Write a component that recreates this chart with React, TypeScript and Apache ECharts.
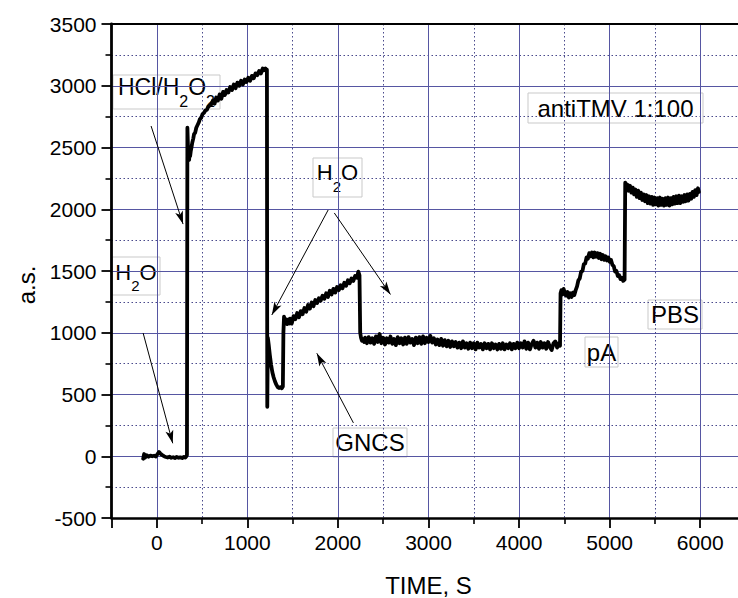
import React, { useEffect, useRef } from "react";
import * as echarts from "echarts";

// Time (s) and signal (a.s.)
const timeS = [
  -150, -140, -130, -110, -90, -70, -50, -30, -10, 10, 25, 40, 55, 70, 85, 100, 120, 140, 160, 180, 200, 220, 240, 260, 280, 300, 315, 328, 333,
  338, 342, 347, 352, 357, 362, 368, 375, 383, 392, 402, 412, 424, 436, 449, 462, 476, 490, 505, 520, 536, 552, 568, 585,
  602, 620, 638, 656, 675, 694, 713, 732, 751, 770, 790, 810, 830, 850, 870, 890, 910, 930, 950, 970, 990, 1010, 1030, 1050, 1070, 1090, 1110, 1130, 1150, 1170, 1185, 1200, 1212, 1216,
  1220, 1226, 1236, 1248, 1262, 1276, 1290, 1305, 1320, 1335, 1350, 1365, 1380, 1392, 1398, 1405, 1415, 1428, 1440, 1452, 1465,
  1470, 1490, 1510, 1530, 1550, 1570, 1590, 1610, 1630, 1650, 1670, 1690, 1710, 1730, 1750, 1770, 1790, 1810, 1830, 1850, 1870, 1890, 1910, 1930, 1950, 1970, 1990, 2010, 2030, 2050, 2070, 2090, 2110, 2130, 2150, 2170, 2190, 2210, 2225, 2238,
  2246, 2255, 2265, 2278, 2290,
  2300, 2320, 2340, 2360, 2380, 2400, 2420, 2440, 2460, 2480, 2500, 2520, 2540, 2560, 2580, 2600, 2620, 2640, 2660, 2680, 2700, 2720, 2740, 2760, 2780, 2800, 2820, 2840, 2860, 2880, 2900, 2920, 2940, 2960, 2980,
  3000, 3020, 3040, 3060, 3080, 3100, 3120, 3140, 3160, 3180, 3200, 3220, 3240, 3260, 3280, 3300, 3320, 3340, 3360, 3380, 3400, 3420, 3440, 3460, 3480, 3500, 3520, 3540, 3560, 3580, 3600, 3620, 3640, 3660, 3680, 3700, 3720, 3740, 3760, 3780, 3800, 3820, 3840, 3860, 3880, 3900, 3920, 3940, 3960, 3980,
  4000, 4020, 4040, 4060, 4080, 4100, 4120, 4140, 4160, 4180, 4200, 4220, 4240, 4260, 4280, 4300, 4320, 4340, 4360, 4380, 4400, 4420, 4440, 4452,
  4458, 4468, 4480, 4492, 4505, 4520, 4535, 4550, 4565, 4580, 4595, 4610, 4625, 4640, 4655, 4670, 4685, 4700, 4715, 4730, 4745, 4760, 4775, 4790, 4805, 4820, 4835, 4850, 4865, 4880, 4895, 4910, 4925, 4940, 4955, 4970, 4985, 5000, 5015, 5030, 5045, 5060, 5075, 5090, 5105, 5120, 5135, 5150, 5165,
  5172, 5182, 5195, 5210, 5225, 5240, 5255, 5270, 5285, 5300, 5315, 5330, 5345, 5360, 5375, 5390, 5405, 5420, 5435, 5450, 5465, 5480, 5495, 5510, 5525, 5540, 5555, 5570, 5585, 5600, 5615, 5630, 5645, 5660, 5675, 5690, 5705, 5720, 5735, 5750, 5765, 5780, 5795, 5810, 5825, 5840, 5855, 5870, 5885, 5900, 5915, 5930, 5945, 5960, 5975, 5985,
];

const signal = [
  -20, 18, -12, 8, -4, 5, 0, 4, -2, 20, 35, 22, 12, 5, -2, -6, -10, -4, -12, -8, -14, -6, -12, -9, -15, -5, -10, 2, 10,
  2660, 2560, 2450, 2410, 2400, 2460, 2430, 2470, 2500, 2540, 2570, 2610, 2620, 2660, 2680, 2700, 2730, 2740, 2770, 2780, 2800, 2805, 2830, 2840,
  2850, 2880, 2855, 2905, 2880, 2930, 2895, 2950, 2925, 2965, 2945, 2990, 2965, 3010, 2980, 3025, 3000, 3040, 3010, 3050, 3030, 3065, 3040, 3080, 3060, 3100, 3085, 3120, 3100, 3140, 3125, 3140, 3120, 3130,
  400, 960, 900, 820, 740, 680, 640, 605, 580, 560, 552, 560, 550, 565, 1000, 1130, 1085, 1110, 1070, 1105, 1075,
  1115, 1075, 1135, 1110, 1160, 1125, 1175, 1150, 1200, 1170, 1225, 1195, 1245, 1215, 1265, 1240, 1280, 1260, 1300, 1275, 1320, 1290, 1340, 1310, 1355, 1325, 1370, 1345, 1385, 1360, 1405, 1380, 1425, 1400, 1440, 1420, 1460, 1445, 1495, 1465,
  1000, 960, 935, 945, 925,
  960, 915, 965, 920, 955, 910, 970, 925, 990, 915, 960, 905, 955, 920, 970, 910, 950, 900, 965, 915, 955, 905, 960, 910, 965, 920, 950, 900, 960, 915, 965, 910, 970, 915, 960,
  925, 975, 920, 955, 905, 945, 900, 950, 895, 940, 890, 935, 885, 930, 890, 925, 880, 920, 875, 930, 880, 915, 870, 920, 875, 915, 865, 920, 880, 910, 865, 915, 875, 910, 865, 915, 875, 905, 865, 910, 870, 915, 865, 905, 875, 915, 865, 910, 875, 920,
  875, 915, 880, 930, 870, 920, 865, 910, 935, 880, 920, 870, 925, 880, 915, 870, 925, 885, 860, 915, 930, 880, 915, 895,
  1320, 1345, 1310, 1355, 1320, 1300, 1330, 1285, 1320, 1290, 1325, 1305, 1345, 1375, 1425, 1440, 1495, 1500, 1555, 1560, 1610, 1600, 1645, 1620, 1650, 1610, 1650, 1615, 1645, 1605, 1640, 1595, 1630, 1590, 1620, 1585, 1610, 1575, 1590, 1550, 1540, 1495, 1500, 1460, 1465, 1435, 1445, 1420, 1430,
  2215, 2185, 2200, 2150, 2190, 2135, 2175, 2120, 2160, 2100, 2150, 2090, 2135, 2075, 2120, 2065, 2115, 2050, 2105, 2045, 2100, 2035, 2095, 2040, 2090, 2030, 2095, 2035, 2085, 2030, 2090, 2035, 2095, 2030, 2090, 2040, 2100, 2045, 2105, 2050, 2110, 2050, 2105, 2060, 2115, 2065, 2120, 2070, 2125, 2085, 2140, 2100, 2155, 2115, 2170, 2140,
];

// Annotation arrows: [from, to] in data coordinates (time, signal)
const arrowFrom = [
  [-63, 2674],
  [-151, 998],
  [1892, 1994],
  [1960, 1970],
  [2171, 270],
];
const arrowTo = [
  [290, 1880],
  [176, 105],
  [1270, 1144],
  [2580, 1310],
  [1767, 834],
];

const xName = "TIME, S";
const yName = "a.s.";

export default function App() {
  const ref = useRef<HTMLDivElement>(null);

  useEffect(() => {
    if (!ref.current) return;
    const chart = echarts.init(ref.current, null, { renderer: "svg" });
    const font = '"Liberation Sans", Arial, Helvetica, sans-serif';
    const gridColor = "#5656a2";
    const minorColor = "#4a4a8c";
    const n = Math.min(timeS.length, signal.length);
    const data = timeS.slice(0, n).map((t, i) => [t, signal[i]]);

    const box = (x: number, y: number, w: number, h: number, text: string, size: number, dy: number, rich?: any) => ({
      type: "group",
      x,
      y,
      silent: true,
      children: [
        {
          type: "rect",
          shape: { x: 0, y: 0, width: w, height: h },
          style: { fill: "#ffffff", stroke: "#c9c9c9", lineWidth: 1 },
        },
        {
          type: "text",
          x: w / 2,
          y: h / 2 + dy,
          style: {
            text,
            fontFamily: font,
            fontSize: size,
            fill: "#000",
            align: "center",
            verticalAlign: "middle",
            rich,
          },
        },
      ],
    });

    const richH2O = {
      n: { fontSize: 22, fontFamily: font, lineHeight: 22, verticalAlign: "top", fill: "#000" },
      s: { fontSize: 15, fontFamily: font, lineHeight: 15, padding: [17, 0, 0, 0], verticalAlign: "top", fill: "#000" },
    };
    const richHCl = {
      n: { fontSize: 23, fontFamily: font, lineHeight: 24, verticalAlign: "top", fill: "#000" },
      s: { fontSize: 16, fontFamily: font, lineHeight: 16, padding: [18, 0, 0, 0], verticalAlign: "top", fill: "#000" },
    };

    const option: any = {
      animation: false,
      backgroundColor: "#ffffff",
      grid: { left: 111.5, top: 24, width: 634, height: 494, containLabel: false, outerBoundsMode: "none" },
      xAxis: [
        {
          type: "value",
          min: -500,
          max: 6500,
          minInterval: 1000,
          maxInterval: 1000,
          position: "bottom",
          name: xName,
          nameLocation: "middle",
          nameGap: 55,
          nameTextStyle: { color: "#000", fontSize: 24, fontFamily: font },
          axisLine: { show: true, onZero: false, lineStyle: { color: "#000", width: 2.5 } },
          axisTick: { show: true, inside: false, length: 10, lineStyle: { color: "#000", width: 1.8 } },
          minorTick: { show: true, splitNumber: 2, length: 6, lineStyle: { color: "#000", width: 1.6 } },
          axisLabel: {
            color: "#000",
            fontSize: 21,
            fontFamily: font,
            margin: 14,
            formatter: (v: number) => (v % 1000 === 0 ? String(v) : ""),
          },
          splitLine: { show: true, lineStyle: { color: gridColor, width: 1 } },
          minorSplitLine: { show: true, lineStyle: { color: minorColor, width: 1, type: [1.5, 2.5] } },
        },
        {
          type: "value",
          min: -500,
          max: 6500,
          position: "top",
          axisLine: { show: true, onZero: false, lineStyle: { color: "#000", width: 2 } },
          axisTick: { show: false },
          axisLabel: { show: false },
          splitLine: { show: false },
        },
      ],
      yAxis: {
        type: "value",
        min: -500,
        max: 3500,
        interval: 500,
        name: yName,
        nameLocation: "middle",
        nameRotate: 90,
        nameGap: 72,
        nameTextStyle: { color: "#000", fontSize: 24, fontFamily: font, padding: [0, 28, 0, 0] },
        axisLine: { show: true, onZero: false, lineStyle: { color: "#000", width: 2.8 } },
        axisTick: { show: true, inside: false, length: 10, lineStyle: { color: "#000", width: 1.8 } },
        minorTick: { show: true, splitNumber: 2, length: 6, lineStyle: { color: "#000", width: 1.6 } },
        axisLabel: { color: "#000", fontSize: 21, fontFamily: font, margin: 15, formatter: (v: number) => String(v) },
        splitLine: { show: true, lineStyle: { color: gridColor, width: 1 } },
        minorSplitLine: { show: true, lineStyle: { color: minorColor, width: 1, type: [1.5, 2.5] } },
      },
      series: [
        {
          type: "line",
          data,
          xAxisIndex: 0,
          yAxisIndex: 0,
          showSymbol: false,
          symbol: "none",
          silent: true,
          lineStyle: { color: "#000", width: 3.8, join: "round", cap: "round" },
          markLine: {
            silent: true,
            symbol: ["none", "arrow"],
            label: { show: false },
            emphasis: { disabled: true },
            lineStyle: { color: "#000", width: 1, type: "solid" },
            data: arrowFrom.map((a, i) => [
              { coord: a, symbol: "none" },
              { coord: arrowTo[i], symbol: "arrow", symbolSize: [6, 13] },
            ]),
          },
        },
      ],
      graphic: [
        box(113, 75, 107, 34, "{n|HCl/H}{s|2}{n|O}{s|2}", 23, -5, richHCl),
        box(313, 158, 49, 39, "{n|H}{s|2}{n|O}", 22, -5, richH2O),
        box(112, 257, 48, 38, "{n|H}{s|2}{n|O}", 22, -4, richH2O),
        box(528, 93, 175, 30, "antiTMV 1:100", 24, 0),
        box(648, 300, 54, 29, "PBS", 24, 0),
        box(585, 337, 33, 30, "pA", 24, 0),
        box(333, 428, 74, 29, "GNCS", 24, 0),
      ],
    };

    chart.setOption(option);
    return () => chart.dispose();
  }, []);

  return (
    <div
      ref={ref}
      style={{ position: "fixed", left: 0, top: 0, width: 738, height: 598, background: "#fff" }}
    />
  );
}
